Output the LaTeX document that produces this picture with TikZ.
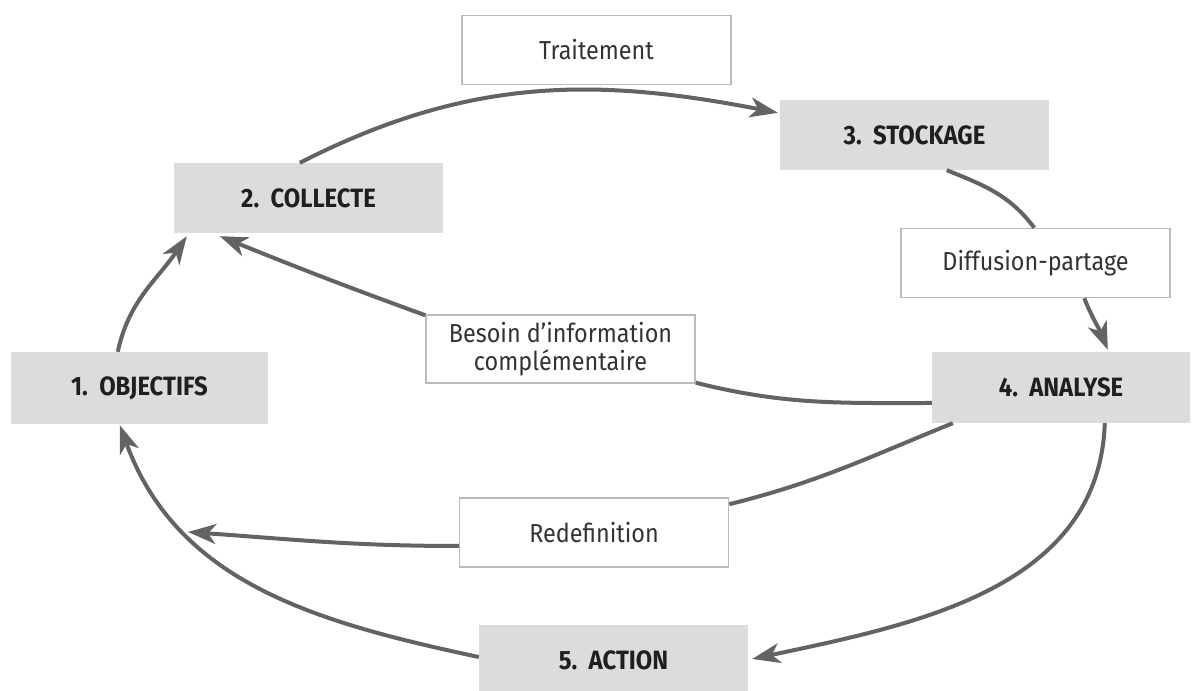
\documentclass[tikz,border=0pt]{standalone}
\usepackage{fontspec}
\setmainfont{Fira Sans}[FakeStretch=0.9]
\usetikzlibrary{arrows.meta,calc}
\definecolor{boxgray}{HTML}{DCDCDC}
\definecolor{bordergray}{HTML}{BBBBBB}
\definecolor{linegray}{HTML}{636363}
\begin{document}
\begin{tikzpicture}[x=1pt,y=1pt,
  stagebox/.style={fill=boxgray, minimum width=269pt, minimum height=70pt, inner sep=0pt,
    font=\fontsize{26.5}{30}\selectfont\bfseries, text=black!88},
  labelbox/.style={draw=bordergray, line width=1.5pt, fill=white, minimum width=269pt,
    minimum height=69pt, inner sep=0pt, align=center,
    font=\fontsize{26}{28}\selectfont, text=black!80},
  flow/.style={draw=linegray, line width=4pt},
  tip/.style={-{Stealth[length=28pt,width=20pt,inset=8pt]}}
]
\useasboundingbox (0,0) rectangle (1192,691);

% stages of the cycle
\node[stagebox, minimum width=257pt, minimum height=72pt] (obj) at (139.5,303) {1.~~OBJECTIFS};
\node[stagebox] (col) at (308.5,493) {2.~~COLLECTE};
\node[stagebox] (sto) at (914.5,556) {3.~~STOCKAGE};
\node[stagebox, minimum width=258pt, minimum height=71pt] (ana) at (1061,303.5) {4.~~ANALYSE};
\node[stagebox] (act) at (613.5,31) {5.~~ACTION};

% labelled steps between stages
\node[labelbox] (tra) at (596.5,641) {Traitement};
\node[labelbox] (dif) at (1035.5,428) {Diffusion-partage};
\node[labelbox, minimum height=68pt] (bes) at (560.5,342) {Besoin d’information\\compl\'ementaire};
\node[labelbox] (red) at (594,158.5) {Redefinition};

\coordinate (redtip) at (188,159);

% connectors
\draw[flow, tip] ($(obj.north west)+(107,0)$) to[out=78, in=236] ($(col.south west)+(13,-3)$);
\draw[flow, tip] ($(col.north west)+(126,0)$) to[out=27, in=169] ($(sto.north west)+(-2,-13)$);
\draw[flow] ($(sto.south west)+(167,0)$) to[out=-22, in=127] ($(dif.north west)+(134,0)$);
\draw[flow, tip] ($(dif.south west)+(184,0)$) to[out=-68, in=112] ($(ana.north west)+(176,2)$);
\draw[flow] ($(ana.west)+(0,-15.5)$) to[out=180, in=-14] ($(bes.south east)+(0,1)$);
\draw[flow, tip] ($(bes.north west)+(0,-1)$) to[out=160, in=-22] ($(col.south west)+(46,-3)$);
\draw[flow] ($(ana.south west)+(21,0)$) to[out=-158, in=14] ($(red.north east)+(0,-7)$);
\draw[flow, tip] ($(red.west)+(0,-13.5)$) to[out=180, in=-4] (redtip);
\draw[flow, tip] ($(ana.south west)+(173,0)$) to[out=-92, in=12] ($(act.east)+(4,1)$);
\draw[flow, tip] ($(act.west)+(0,3)$) to[out=168, in=-70] ($(obj.south west)+(109,-1)$);
\end{tikzpicture}
\end{document}
